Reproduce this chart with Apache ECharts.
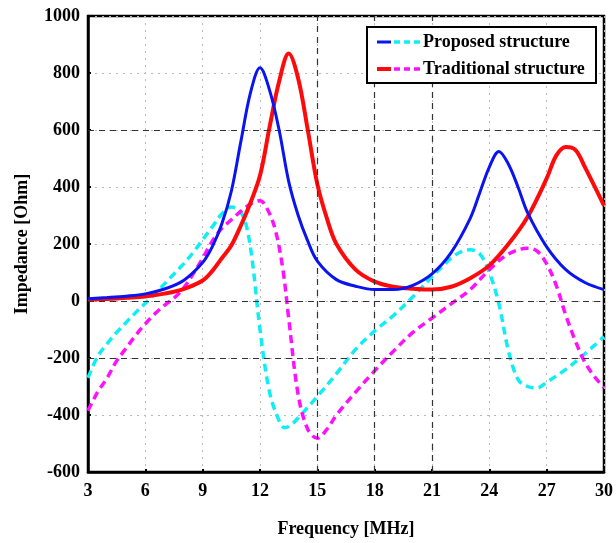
<!DOCTYPE html>
<html>
<head>
<meta charset="utf-8">
<script src="https://cdn.jsdelivr.net/npm/echarts@6/dist/echarts.min.js"></script>
<style>
html,body{margin:0;padding:0;background:#fff;}
#chart{width:616px;height:543px;}
</style>
</head>
<body>
<div id="chart"></div>
<script>
// ---- Data ----
const xTicks = [3, 6, 9, 12, 15, 18, 21, 24, 27, 30];
const yTicks = [-600, -400, -200, 0, 200, 400, 600, 800, 1000];

const propRealF = [3,4,5,6,7,8,9,9.5,10,10.5,11,11.5,12,12.5,13,13.5,14,14.5,15,16,17,18,19,20,21,22,23,23.5,24,24.5,25,25.5,26,27,28,29,30];
const propRealV = [8,12,17,25,42,72,135,190,270,385,560,730,818,740,600,420,300,210,140,75,52,40,40,55,95,170,290,380,470,525,480,400,310,190,110,65,40];

const tradRealF = [3,4,5,6,7,8,9,9.5,10,10.5,11,11.5,12,12.5,13,13.5,14,14.5,15,15.5,16,17,18,19,20,21,22,23,24,25,26,27,27.5,28,28.5,29,30];
const tradRealV = [4,7,11,16,26,42,72,105,150,195,265,345,440,610,770,868,780,600,410,290,200,110,68,50,43,40,50,80,125,200,295,430,510,540,530,470,335];

const propImagF = [3,3.5,4,4.5,5,5.5,6,6.5,7,7.5,8,8.5,9,9.5,10,10.5,11,11.3,11.6,12,12.5,13,13.3,13.7,14,15,16,17,18,19,20,21,22,22.5,23,23.5,24,24.5,25,25.5,26,26.5,27,28,29,30];
const propImagV = [-270,-195,-150,-110,-75,-40,-8,25,60,95,130,170,215,260,305,330,310,260,140,-100,-320,-420,-445,-430,-410,-335,-255,-170,-105,-50,15,85,150,172,180,165,100,-10,-175,-275,-300,-305,-285,-240,-185,-125];

const tradImagF = [3,3.5,4,4.5,5,5.5,6,6.5,7,7.5,8,8.5,9,9.5,10,10.5,11,11.5,12,12.4,12.8,13.2,13.5,14,14.5,15,15.5,16,17,18,19,20,21,22,23,24,25,26,26.5,27,27.5,28,28.5,29,29.5,30];
const tradImagV = [-385,-320,-270,-210,-165,-120,-80,-45,-15,10,45,95,150,210,255,285,315,340,352,320,250,110,-60,-330,-450,-482,-450,-400,-320,-245,-175,-110,-60,-10,40,110,165,185,175,130,55,-50,-140,-215,-265,-305];

const darkGridX = [15, 18, 21];
const darkGridY = [600, 0, -200];

const legendNames = ['Proposed structure', 'Traditional structure'];

// ---- Build ----
function pairs(f, v) { return f.map((x, i) => [x, v[i]]); }

const serif = '"Liberation Serif", "DejaVu Serif", serif';
const chart = echarts.init(document.getElementById('chart'));

const C_BLUE = '#0a14f0', C_RED = '#ff0a0a', C_CYAN = '#10eef5', C_MAG = '#ff10ff';

const option = {
  backgroundColor: '#fff',
  animation: false,
  grid: { left: 88, right: 10, top: 16, bottom: 71, show: true, borderColor: '#000', borderWidth: 2.5, backgroundColor: 'transparent' },
  xAxis: {
    type: 'value', min: 3, max: 30, interval: 3,
    name: 'Frequency [MHz]', nameLocation: 'middle', nameGap: 48,
    nameTextStyle: { fontFamily: serif, fontSize: 18, fontWeight: 'bold', color: '#000' },
    axisLine: { show: true, onZero: false, lineStyle: { color: '#000', width: 2.5 } },
    axisTick: { show: true, inside: true, length: 3, lineStyle: { color: '#000', width: 2 } },
    axisLabel: { fontFamily: serif, fontSize: 18, fontWeight: 'bold', color: '#000', margin: 10,
      formatter: v => String(v) },
    splitLine: { show: true, lineStyle: { color: '#b8b8b8', type: [2, 5], width: 1 } }
  },
  yAxis: {
    type: 'value', min: -600, max: 1000, interval: 200,
    name: 'Impedance [Ohm]', nameLocation: 'middle', nameGap: 57,
    nameTextStyle: { fontFamily: serif, fontSize: 18, fontWeight: 'bold', color: '#000' },
    axisLine: { show: true, onZero: false, lineStyle: { color: '#000', width: 2.5 } },
    axisTick: { show: true, inside: true, length: 3, lineStyle: { color: '#000', width: 2 } },
    axisLabel: { fontFamily: serif, fontSize: 18, fontWeight: 'bold', color: '#000', margin: 8,
      formatter: v => String(v) },
    splitLine: { show: true, lineStyle: { color: '#b8b8b8', type: [2, 5], width: 1 } }
  },
  series: [
    {
      type: 'line', name: 'grid', data: [], silent: true,
      markLine: {
        silent: true, symbol: 'none', label: { show: false },
        lineStyle: { color: '#333', type: [6, 5], width: 1.2 },
        data: darkGridX.map(x => ({ xAxis: x })).concat(darkGridY.map(y => ({ yAxis: y })))
      }
    },
    { type: 'line', name: legendNames[0] + ' imag', data: pairs(propImagF, propImagV), smooth: 0.35, showSymbol: false,
      lineStyle: { color: C_CYAN, width: 3.5, type: [8, 5] }, z: 3 },
    { type: 'line', name: legendNames[1] + ' imag', data: pairs(tradImagF, tradImagV), smooth: 0.35, showSymbol: false,
      lineStyle: { color: C_MAG, width: 3.5, type: [8, 5] }, z: 3 },
    { type: 'line', name: legendNames[1], data: pairs(tradRealF, tradRealV), smooth: 0.35, showSymbol: false,
      lineStyle: { color: C_RED, width: 4 }, z: 4 },
    { type: 'line', name: legendNames[0], data: pairs(propRealF, propRealV), smooth: 0.35, showSymbol: false,
      lineStyle: { color: C_BLUE, width: 3 }, z: 5 }
  ],
  graphic: [
    { type: 'rect', shape: { x: 367, y: 27, width: 229, height: 56 }, style: { fill: '#fff', stroke: '#000', lineWidth: 2 }, z: 100 },
    { type: 'line', shape: { x1: 377, y1: 42, x2: 391, y2: 42 }, style: { stroke: C_BLUE, lineWidth: 3 }, z: 101 },
    { type: 'line', shape: { x1: 394, y1: 42, x2: 420, y2: 42 }, style: { stroke: C_CYAN, lineWidth: 3.5, lineDash: [6, 4] }, z: 101 },
    { type: 'text', x: 423, y: 42, style: { text: legendNames[0], font: 'bold 18px ' + serif, fill: '#000', textVerticalAlign: 'middle' }, z: 101 },
    { type: 'line', shape: { x1: 377, y1: 69, x2: 391, y2: 69 }, style: { stroke: C_RED, lineWidth: 4 }, z: 101 },
    { type: 'line', shape: { x1: 394, y1: 69, x2: 420, y2: 69 }, style: { stroke: C_MAG, lineWidth: 3.5, lineDash: [6, 4] }, z: 101 },
    { type: 'text', x: 423, y: 69, style: { text: legendNames[1], font: 'bold 18px ' + serif, fill: '#000', textVerticalAlign: 'middle' }, z: 101 }
  ]
};
chart.setOption(option);
</script>
</body>
</html>
